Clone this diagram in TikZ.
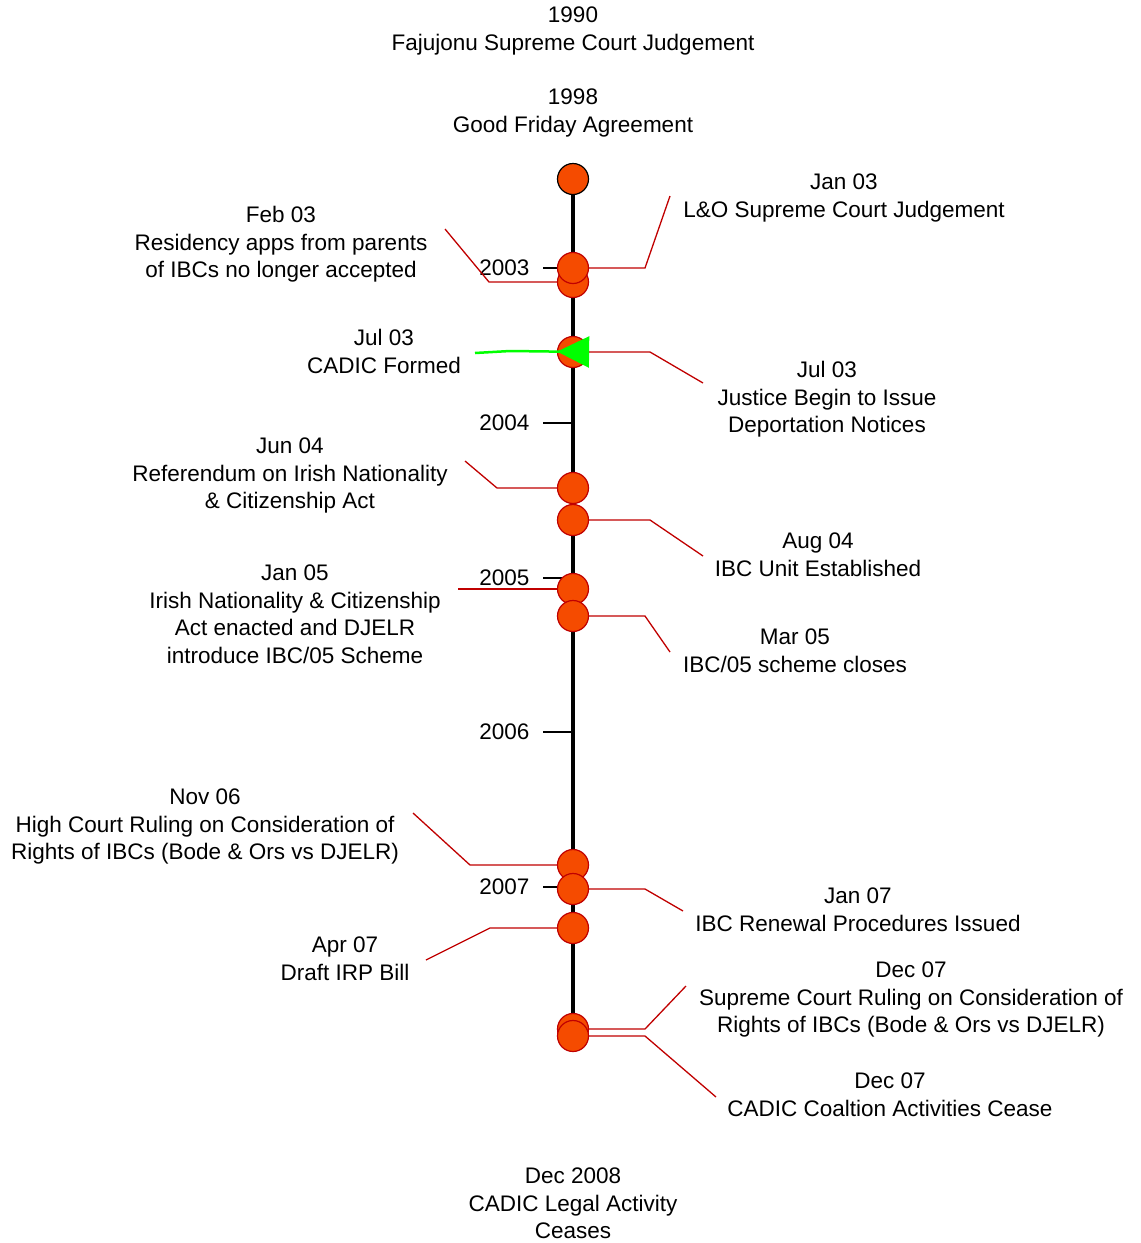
\documentclass[tikz,border=0pt]{standalone}
\usepackage{fontspec}
\setmainfont{Liberation Sans}
\usetikzlibrary{arrows.meta}
\definecolor{dotfill}{RGB}{245,75,0}
\definecolor{linkred}{RGB}{192,0,0}

\begin{document}
\begin{tikzpicture}[x=1pt,y=-1pt,
   event/.style={circle,draw=linkred,fill=dotfill,line width=1.2pt,minimum size=31pt,inner sep=0pt},
   link/.style={draw=linkred,line width=1.3pt},
   cadicline/.style={draw=green,line width=2.5pt,{Triangle[reversed,length=32pt,width=31pt]}-},
   note/.style={align=center,anchor=north,inner sep=0pt,font=\fontsize{22.5}{27.5}\selectfont},
   year/.style={anchor=east,inner sep=0pt,xshift=-13pt,font=\fontsize{22.5}{27.5}\selectfont},
   yeartick/.style={line width=1.2pt}]
   \useasboundingbox (0,0) rectangle (1141,1243);
   % axis and years
   \coordinate (axtop) at (573,179);
   \coordinate (axend) at (573,1036);
   \draw[line width=4pt] (axtop) -- (axend);
   \foreach \yr/\y in {2003/268,2004/423,2005/578,2006/732,2007/887}
      \draw[yeartick] (573,\y) -- (543,\y) node[year] {\yr};
   % events
   \node[event,draw=black] (c_0) at (axtop) {};
   \node[event] (c_2) at (573,282) {};
   \node[event] (c_1) at (573,268) {};
   \node[event] (c_3) at (573,352) {};
   \node[event] (c_4) at (573,488) {};
   \node[event] (c_5) at (573,520) {};
   \node[event] (c_6) at (573,589) {};
   \node[event] (c_7) at (573,616) {};
   \node[event] (c_8) at (573,865) {};
   \node[event] (c_9) at (573,889) {};
   \node[event] (c_10) at (573,928) {};
   \node[event] (c_11) at (573,1029) {};
   \node[event] (c_12) at (axend) {};
   % texts
   \node[note] (t_1990) at (573,7) {1990\\Fajujonu Supreme Court Judgement};
   \node[note] (t_1998) at (573,89) {1998\\Good Friday Agreement};
   \node[note] (t_jan03) at (844,174) {Jan 03\\L\&O Supreme Court Judgement};
   \node[note] (t_feb03) at (281,206) {Feb 03\\Residency apps from parents\\of IBCs no longer accepted};
   \node[note] (t_jul03a) at (384,329) {Jul 03\\CADIC Formed};
   \node[note] (t_jul03b) at (827,361) {Jul 03\\Justice Begin to Issue\\Deportation Notices};
   \node[note] (t_jun04) at (290,438) {Jun 04\\Referendum on Irish Nationality\\\& Citizenship Act};
   \node[note] (t_aug04) at (818,533) {Aug 04\\IBC Unit Established};
   \node[note] (t_jan05) at (295,565) {Jan 05\\Irish Nationality \& Citizenship\\Act enacted and DJELR\\introduce IBC/05 Scheme};
   \node[note] (t_mar05) at (795,629) {Mar 05\\IBC/05 scheme closes};
   \node[note] (t_nov06) at (205,789) {Nov 06\\High Court Ruling on Consideration of\\Rights of IBCs (Bode \& Ors vs DJELR)};
   \node[note] (t_jan07) at (858,888) {Jan 07\\IBC Renewal Procedures Issued};
   \node[note] (t_apr07) at (345,937) {Apr 07\\Draft IRP Bill};
   \node[note] (t_dec07a) at (911,962) {Dec 07\\Supreme Court Ruling on Consideration of\\Rights of IBCs (Bode \& Ors vs DJELR)};
   \node[note] (t_dec07b) at (890,1073) {Dec 07\\CADIC Coaltion Activities Cease};
   \node[note] (t_dec08) at (573,1168) {Dec 2008\\CADIC Legal Activity\\Ceases};
   % connectors
   \draw[link] (c_1.east) -- (645,268) -- (670,196);
   \draw[link] (c_2.west) -- (489,282) -- (445,229);
   \draw[link] (c_3.east) -- (650,352) -- (703,383);
   \draw[link] (c_4.west) -- (497,488) -- (465,461);
   \draw[link] (c_5.east) -- (650,520) -- (703,556);
   \draw[link] (c_6.west) -- (458,589);
   \draw[link] (c_7.east) -- (645,616) -- (670,652);
   \draw[link] (c_8.west) -- (470,865) -- (413,813);
   \draw[link] (c_9.east) -- (645,889) -- (683,911);
   \draw[link] (c_10.west) -- (490,928) -- (426,960);
   \draw[link] (c_11.east) -- (645,1029) -- (686,986);
   \draw[link] (c_12.east) -- (645,1036) -- (716,1097);
   \draw[cadicline] (c_3.east) -- (510,351) -- (475,353);
\end{tikzpicture}
\end{document}
